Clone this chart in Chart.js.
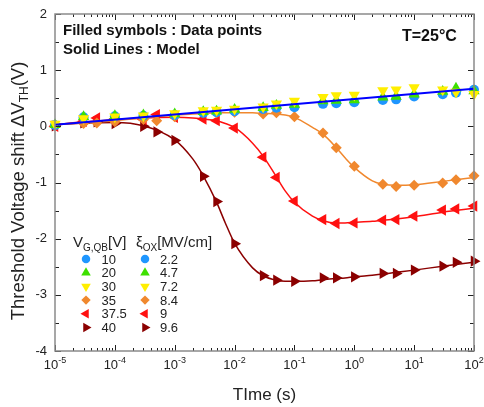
<!DOCTYPE html>
<html>
<head>
<meta charset="utf-8">
<script src="https://cdn.jsdelivr.net/npm/chart.js@4.4.1/dist/chart.umd.min.js"></script>
<style>
  body { margin: 0; background: #fff; }
  #wrap { width: 484px; height: 407px; }
</style>
</head>
<body>
<div id="wrap"><canvas id="chart" width="484" height="407"></canvas></div>
<script>
// measured times (s)
const times = [1e-5, 3e-5, 5e-5, 1e-4, 3e-4, 5e-4, 1e-3, 3e-3, 5e-3, 1e-2, 3e-2, 5e-2, 0.1, 0.3, 0.5, 1, 3, 5, 10, 30, 50, 100];

// data points, dVth (V)
const v10  = [0.02, 0.16, null, 0.18, 0.19, null, 0.20, 0.24, 0.25, 0.27, 0.31, 0.33, 0.34, 0.40, 0.41, 0.43, 0.47, 0.48, 0.53, 0.57, 0.60, 0.65];
const v20  = [0.03, 0.17, null, 0.19, 0.20, null, 0.22, 0.26, 0.27, 0.30, 0.33, 0.37, 0.39, 0.45, 0.46, 0.47, 0.52, 0.53, 0.57, 0.62, 0.68, 0.63];
const v30  = [0.04, 0.14, null, 0.17, 0.19, null, 0.23, 0.28, 0.29, 0.31, 0.35, 0.40, 0.45, 0.52, 0.55, 0.56, 0.64, 0.65, 0.69, 0.65, 0.61, 0.57];
const v35  = [0.02, 0.05, 0.06, 0.08, 0.12, 0.10, 0.17, 0.24, 0.24, 0.25, 0.22, 0.24, 0.17, -0.12, -0.38, -0.71, -1.03, -1.07, -1.05, -1.01, -0.95, -0.88];
const v375 = [0.00, 0.09, 0.15, 0.13, 0.12, 0.21, 0.16, 0.13, 0.10, -0.03, -0.55, -0.91, -1.33, -1.66, -1.73, -1.72, -1.67, -1.66, -1.60, -1.49, -1.47, -1.42];
const v40  = [0.01, 0.06, 0.08, 0.05, 0.00, -0.10, -0.25, -0.89, -1.34, -2.09, -2.66, -2.74, -2.76, -2.70, -2.70, -2.68, -2.62, -2.62, -2.56, -2.49, -2.42, -2.40];

// model curves
const modelTime = [1e-5, 3e-5, 1e-4, 3e-4, 1e-3, 2e-3, 3e-3, 5e-3, 7e-3, 1e-2, 2e-2, 3e-2, 5e-2, 7e-2, 0.1, 0.2, 0.3, 0.5, 0.7, 1, 2, 3, 5, 10, 30, 100];
const model40  = [0.03, 0.06, 0.07, 0.01, -0.24, -0.58, -0.88, -1.35, -1.72, -2.08, -2.52, -2.66, -2.74, -2.76, -2.76, -2.75, -2.73, -2.71, -2.70, -2.68, -2.65, -2.63, -2.60, -2.56, -2.49, -2.42];
const model375 = [0.03, 0.08, 0.12, 0.15, 0.16, 0.15, 0.13, 0.10, 0.05, -0.02, -0.30, -0.53, -0.90, -1.15, -1.35, -1.60, -1.68, -1.72, -1.72, -1.71, -1.69, -1.67, -1.65, -1.61, -1.53, -1.46];
const model35  = [0.03, 0.06, 0.10, 0.15, 0.20, 0.22, 0.23, 0.24, 0.24, 0.24, 0.24, 0.23, 0.22, 0.20, 0.16, -0.02, -0.14, -0.38, -0.56, -0.73, -0.97, -1.03, -1.05, -1.04, -0.98, -0.91];
const lowModelTime = [1e-5, 100];
const lowModel = [0.03, 0.67];

// axes
const xTickExp = ['-5', '-4', '-3', '-2', '-1', '0', '1', '2'];
const yTicks = [2, 1, 0, -1, -2, -3, -4];

// legend
const legendV = ['10', '20', '30', '35', '37.5', '40'];
const legendE = ['2.2', '4.7', '7.2', '8.4', '9', '9.6'];

const C_BLUE = '#1e96ff', C_GREEN = '#3ee000', C_YELLOW = '#ffee00',
      C_ORANGE = '#f0882e', C_RED = '#ff1010', C_DRED = '#8b0000';

const styles = [
  { c: C_BLUE,   s: 'circle',   rot: 0,   r: 5 },
  { c: C_GREEN,  s: 'triangle', rot: 0,   r: 6.5 },
  { c: C_YELLOW, s: 'triangle', rot: 180, r: 6.5 },
  { c: C_ORANGE, s: 'rectRot',  rot: 0,   r: 5.5 },
  { c: C_RED,    s: 'triangle', rot: 270, r: 6.5 },
  { c: C_DRED,   s: 'triangle', rot: 90,  r: 6.5 }
];

function pts(vals, st, order) {
  return {
    data: times.map((t, i) => ({ x: t, y: vals[i] })).filter(p => p.y !== null),
    backgroundColor: st.c,
    borderColor: st.c,
    pointStyle: st.s,
    rotation: st.rot,
    pointRadius: st.r,
    pointHoverRadius: st.r,
    pointBorderWidth: 0,
    showLine: false,
    clip: false,
    order: order
  };
}

function model(tt, vals, color, width, order) {
  return {
    data: tt.map((t, i) => ({ x: t, y: vals[i] })),
    borderColor: color,
    borderWidth: width,
    showLine: true,
    pointRadius: 0,
    cubicInterpolationMode: 'monotone',
    fill: false,
    order: order
  };
}

function line(ctx, x1, y1, x2, y2) {
  ctx.beginPath(); ctx.moveTo(x1, y1); ctx.lineTo(x2, y2); ctx.stroke();
}

const decor = {
  id: 'decor',
  afterDatasetsDraw(chart) {
    const { ctx, chartArea: a, scales: { x, y } } = chart;
    ctx.save();

    // tick marks, pointing inwards
    ctx.strokeStyle = '#222';
    ctx.lineWidth = 1;
    for (let e = -5; e <= 2; e++) {
      const px = Math.round(x.getPixelForValue(Math.pow(10, e))) + 0.5;
      line(ctx, px, a.bottom, px, a.bottom - 6);
      line(ctx, px, a.top, px, a.top + 6);
      if (e < 2) {
        for (let m = 2; m <= 9; m++) {
          const mx = Math.round(x.getPixelForValue(m * Math.pow(10, e))) + 0.5;
          line(ctx, mx, a.bottom, mx, a.bottom - 3);
          line(ctx, mx, a.top, mx, a.top + 3);
        }
      }
    }
    for (let v = -4; v <= 2; v += 0.5) {
      const py = Math.round(y.getPixelForValue(v)) + 0.5;
      const len = Number.isInteger(v) ? 6 : 4;
      line(ctx, a.left, py, a.left + len, py);
      line(ctx, a.right, py, a.right - len, py);
    }

    // frame
    ctx.strokeStyle = '#8a8a8a';
    ctx.lineWidth = 1.5;
    ctx.strokeRect(a.left, a.top, a.right - a.left, a.bottom - a.top);

    // x tick labels 10^n
    ctx.fillStyle = '#222';
    ctx.textBaseline = 'alphabetic';
    xTickExp.forEach((ex, i) => {
      const px = x.getPixelForValue(Math.pow(10, i - 5));
      ctx.font = '13px "Liberation Sans", Arial, sans-serif';
      const w1 = ctx.measureText('10').width;
      ctx.font = '9px "Liberation Sans", Arial, sans-serif';
      const w2 = ctx.measureText(ex).width;
      const x0 = px - (w1 + w2) / 2;
      ctx.font = '13px "Liberation Sans", Arial, sans-serif';
      ctx.textAlign = 'left';
      ctx.fillText('10', x0, a.bottom + 18);
      ctx.font = '9px "Liberation Sans", Arial, sans-serif';
      ctx.fillText(ex, x0 + w1, a.bottom + 12);
    });

    // y tick labels
    ctx.font = '13px "Liberation Sans", Arial, sans-serif';
    ctx.textAlign = 'right';
    ctx.textBaseline = 'middle';
    yTicks.forEach(v => ctx.fillText(String(v), a.left - 8, y.getPixelForValue(v)));

    // x title
    ctx.font = '17px "Liberation Sans", Arial, sans-serif';
    ctx.textAlign = 'center';
    ctx.textBaseline = 'alphabetic';
    ctx.fillText('TIme (s)', (a.left + a.right) / 2, 400);

    // y title with subscript
    ctx.save();
    ctx.translate(24, 191);
    ctx.rotate(-Math.PI / 2);
    const big = '18.5px "Liberation Sans", Arial, sans-serif';
    const small = '12px "Liberation Sans", Arial, sans-serif';
    const parts = [['Threshold Voltage shift \u0394V', big, 0], ['TH', small, 4], ['(V)', big, 0]];
    let tot = 0;
    parts.forEach(p => { ctx.font = p[1]; tot += ctx.measureText(p[0]).width; });
    let ux = -tot / 2;
    ctx.textAlign = 'left';
    parts.forEach(p => { ctx.font = p[1]; ctx.fillText(p[0], ux, p[2]); ux += ctx.measureText(p[0]).width; });
    ctx.restore();

    // annotations
    ctx.fillStyle = '#111';
    ctx.textAlign = 'left';
    ctx.font = 'bold 15px "Liberation Sans", Arial, sans-serif';
    ctx.fillText('Filled symbols : Data points', 63, 35);
    ctx.fillText('Solid Lines : Model', 63, 54);
    ctx.font = 'bold 16px "Liberation Sans", Arial, sans-serif';
    ctx.fillText('T=25\u00b0C', 402, 41);

    // legend headers
    ctx.fillStyle = '#222';
    ctx.font = '15px "Liberation Sans", Arial, sans-serif';
    ctx.fillText('V', 73, 247);
    let hx = 73 + ctx.measureText('V').width;
    ctx.font = '10px "Liberation Sans", Arial, sans-serif';
    ctx.fillText('G,QB', hx, 251);
    hx += ctx.measureText('G,QB').width;
    ctx.font = '15px "Liberation Sans", Arial, sans-serif';
    ctx.fillText('[V]', hx, 247);

    ctx.fillText('\u03be', 136, 247);
    hx = 136 + ctx.measureText('\u03be').width;
    ctx.font = '10px "Liberation Sans", Arial, sans-serif';
    ctx.fillText('OX', hx, 251);
    hx += ctx.measureText('OX').width;
    ctx.font = '15px "Liberation Sans", Arial, sans-serif';
    ctx.fillText('[MV/cm]', hx, 247);

    // legend rows
    ctx.font = '13px "Liberation Sans", Arial, sans-serif';
    ctx.textBaseline = 'middle';
    styles.forEach((st, i) => {
      const ry = 259 + i * 13.7;
      ctx.fillStyle = st.c;
      const o = { pointStyle: st.s, rotation: st.rot, radius: st.r * 0.85, borderWidth: 0 };
      Chart.helpers.drawPoint(ctx, o, 86, ry);
      Chart.helpers.drawPoint(ctx, o, 145, ry);
      ctx.fillStyle = '#222';
      ctx.fillText(legendV[i], 101.5, ry + 1);
      ctx.fillText(legendE[i], 160, ry + 1);
    });

    ctx.restore();
  }
};

new Chart(document.getElementById('chart'), {
  type: 'scatter',
  data: {
    datasets: [
      model(lowModelTime, lowModel, '#0000ff', 2, 0),
      pts(v30, styles[2], 1),
      pts(v20, styles[1], 2),
      pts(v10, styles[0], 3),
      pts(v35, styles[3], 4),
      pts(v375, styles[4], 5),
      pts(v40, styles[5], 6),
      model(modelTime, model35, C_ORANGE, 1.5, 7),
      model(modelTime, model375, C_RED, 1.5, 8),
      model(modelTime, model40, C_DRED, 1.5, 9)
    ]
  },
  options: {
    responsive: false,
    devicePixelRatio: 1,
    animation: false,
    layout: { padding: { left: 55, right: 10, top: 14, bottom: 56 } },
    plugins: { legend: { display: false }, tooltip: { enabled: false } },
    scales: {
      x: { type: 'logarithmic', min: 1e-5, max: 100, display: false },
      y: { type: 'linear', min: -4, max: 2, display: false }
    }
  },
  plugins: [decor]
});
</script>
</body>
</html>
